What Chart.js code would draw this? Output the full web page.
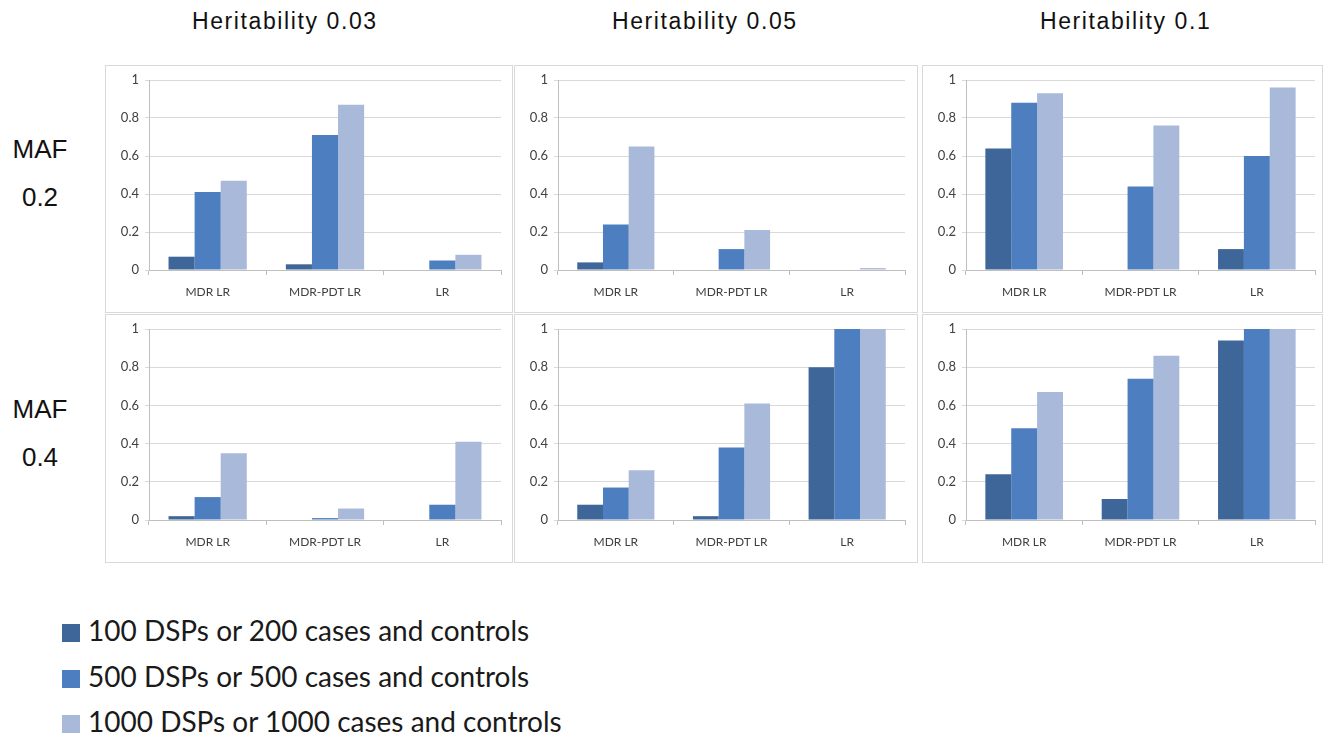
<!DOCTYPE html>
<html>
<head>
<meta charset="utf-8">
<script src="https://cdn.jsdelivr.net/npm/chart.js@4/dist/chart.umd.min.js"></script>
<style>
    body { margin: 0; background: #fff; width: 1324px; height: 733px; position: relative; overflow: hidden; font-family: "Liberation Sans", Arial, sans-serif; }
    .title { position: absolute; top: 8px; font-size: 23px; letter-spacing: 1.6px; color: #111; white-space: nowrap; }
    .rowlab { position: absolute; font-size: 26px; color: #111; text-align: center; width: 70px; left: 5px; }
    .panel { position: absolute; box-sizing: border-box; border: 1px solid #d9d9d9; }
    .legend { position: absolute; left: 62px; font-family: Lato, "Open Sans", sans-serif; font-size: 28px; color: #1a1a1a; white-space: nowrap; }
    .legend span { display: inline-block; width: 18px; height: 18px; margin-right: 8px; vertical-align: -1px; }
</style>
</head>
<body>
<div class="title" style="left:192px">Heritability 0.03</div>
<div class="title" style="left:612px">Heritability 0.05</div>
<div class="title" style="left:1040px">Heritability 0.1</div>

<div class="rowlab" style="top:134px">MAF</div>
<div class="rowlab" style="top:182px">0.2</div>
<div class="rowlab" style="top:394px">MAF</div>
<div class="rowlab" style="top:442px">0.4</div>

<div id="grid"></div>
<div id="legend"></div>

<script>
// categories and series
const categories = ['MDR LR', 'MDR-PDT LR', 'LR'];
const seriesNames = ['100 DSPs or 200 cases and controls', '500 DSPs or 500 cases and controls', '1000 DSPs or 1000 cases and controls'];
const seriesColors = ['#3e6699', '#4d7ebf', '#a8b9da'];
const yTicks = [0, 0.2, 0.4, 0.6, 0.8, 1];

// each panel: one array per series (100, 500, 1000), values per category
const maf02_h003 = [[0.07, 0.03, 0], [0.41, 0.71, 0.05], [0.47, 0.87, 0.08]];
const maf02_h005 = [[0.04, 0, 0], [0.24, 0.11, 0], [0.65, 0.21, 0.01]];
const maf02_h01 = [[0.64, 0, 0.11], [0.88, 0.44, 0.60], [0.93, 0.76, 0.96]];
const maf04_h003 = [[0.02, 0, 0], [0.12, 0.01, 0.08], [0.35, 0.06, 0.41]];
const maf04_h005 = [[0.08, 0.02, 0.80], [0.17, 0.38, 1.0], [0.26, 0.61, 1.0]];
const maf04_h01 = [[0.24, 0.11, 0.94], [0.48, 0.74, 1.0], [0.67, 0.86, 1.0]];

const panels = [
    [maf02_h003, maf02_h005, maf02_h01],
    [maf04_h003, maf04_h005, maf04_h01]
];

const colLeft = [105, 514, 922];
const colWidth = [408, 404, 401];
const colRightPad = [11, 12, 7];
const rowTop = [65, 314];
const rowHeight = [248, 249];

const tickFont = { family: "Lato, 'Open Sans', sans-serif", size: 13 };
const catFont = { family: "Lato, 'Open Sans', sans-serif", size: 12 };

const grid = document.getElementById('grid');

panels.forEach((row, r) => {
    row.forEach((values, c) => {
        const box = document.createElement('div');
        box.className = 'panel';
        box.style.left = colLeft[c] + 'px';
        box.style.top = rowTop[r] + 'px';
        box.style.width = colWidth[c] + 'px';
        box.style.height = rowHeight[r] + 'px';
        const canvas = document.createElement('canvas');
        box.appendChild(canvas);
        grid.appendChild(box);

        new Chart(canvas, {
            type: 'bar',
            data: {
                labels: categories,
                datasets: values.map((v, i) => ({
                    label: seriesNames[i],
                    data: v,
                    backgroundColor: seriesColors[i],
                    borderWidth: 0,
                    barPercentage: 1,
                    categoryPercentage: 0.667
                }))
            },
            options: {
                responsive: true,
                maintainAspectRatio: false,
                animation: false,
                layout: { padding: { top: 14, right: colRightPad[c], bottom: 4, left: 0 } },
                plugins: { legend: { display: false }, tooltip: { enabled: false } },
                scales: {
                    x: {
                        grid: { display: true, drawOnChartArea: false, drawTicks: true, tickLength: 5, color: '#bfbfbf', offset: true },
                        border: { display: true, color: '#bfbfbf' },
                        ticks: { color: '#404040', font: catFont, padding: 10, maxRotation: 0 },
                        afterFit: (s) => { s.height = 38; }
                    },
                    y: {
                        min: 0,
                        max: 1,
                        afterBuildTicks: (s) => { s.ticks = yTicks.map(v => ({ value: v })); },
                        grid: { color: '#d9d9d9', tickLength: 4 },
                        border: { display: true, color: '#bfbfbf' },
                        ticks: { color: '#404040', font: tickFont, padding: 6, callback: (v) => String(v) },
                        afterFit: (s) => { s.width = 43; }
                    }
                }
            }
        });
    });
});

// legend rows
const legend = document.getElementById('legend');
const legendTop = [613, 659, 704];
seriesNames.forEach((name, i) => {
    const d = document.createElement('div');
    d.className = 'legend';
    d.style.top = legendTop[i] + 'px';
    d.innerHTML = '<span style="background:' + seriesColors[i] + '"></span>' + name;
    legend.appendChild(d);
});
</script>
</body>
</html>
